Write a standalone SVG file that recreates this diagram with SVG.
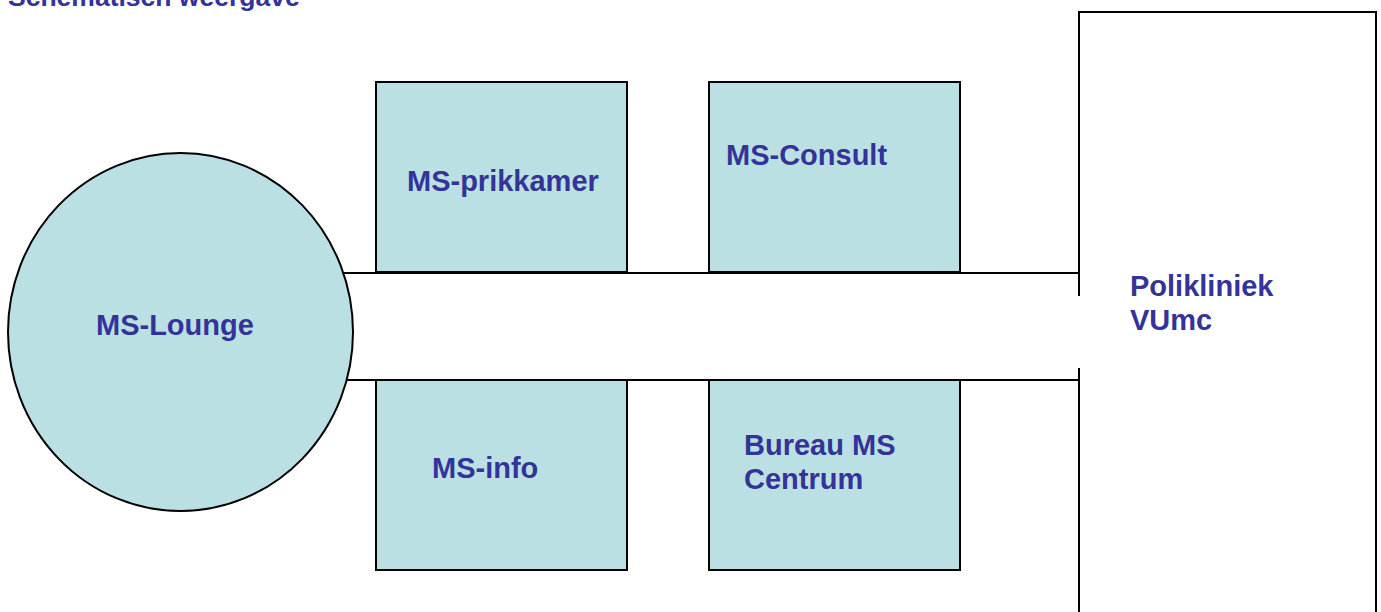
<svg xmlns="http://www.w3.org/2000/svg" width="1381" height="612" viewBox="0 0 1381 612">
<style>
.room{fill:#BBE0E3;stroke:#000;stroke-width:2}
.wall{fill:none;stroke:#000;stroke-width:2}
.lbl{font-family:"Liberation Sans",Arial,sans-serif;font-weight:bold;font-size:29px;fill:#333399}
.ttl{font-size:26.5px}
</style>
<rect width="1381" height="612" fill="#fff"/>
<text class="lbl ttl" x="8" y="6">Schematisch weergave</text>
<g id="polikliniek">
<path class="wall" d="M1079 296 V12 H1376 V614 M1079 368 V614"/>
<text class="lbl"><tspan x="1130" y="296">Polikliniek</tspan><tspan x="1130" y="330">VUmc</tspan></text>
</g>
<g id="prikkamer">
<rect class="room" x="376" y="82" width="251" height="190"/>
<text class="lbl" x="407" y="191">MS-prikkamer</text>
</g>
<g id="consult">
<rect class="room" x="709" y="82" width="251" height="190"/>
<text class="lbl" x="726" y="165">MS-Consult</text>
</g>
<g id="info">
<rect class="room" x="376" y="380" width="251" height="190"/>
<text class="lbl" x="432" y="478">MS-info</text>
</g>
<g id="bureau">
<rect class="room" x="709" y="380" width="251" height="190"/>
<text class="lbl"><tspan x="744" y="455">Bureau MS</tspan><tspan x="744" y="489">Centrum</tspan></text>
</g>
<g id="connectors">
<line class="wall" x1="330" y1="273" x2="1080" y2="273"/>
<line class="wall" x1="330" y1="380" x2="1080" y2="380"/>
</g>
<g id="lounge">
<ellipse class="room" cx="180.5" cy="332" rx="172.5" ry="179"/>
<text class="lbl" x="96" y="335">MS-Lounge</text>
</g>
</svg>
